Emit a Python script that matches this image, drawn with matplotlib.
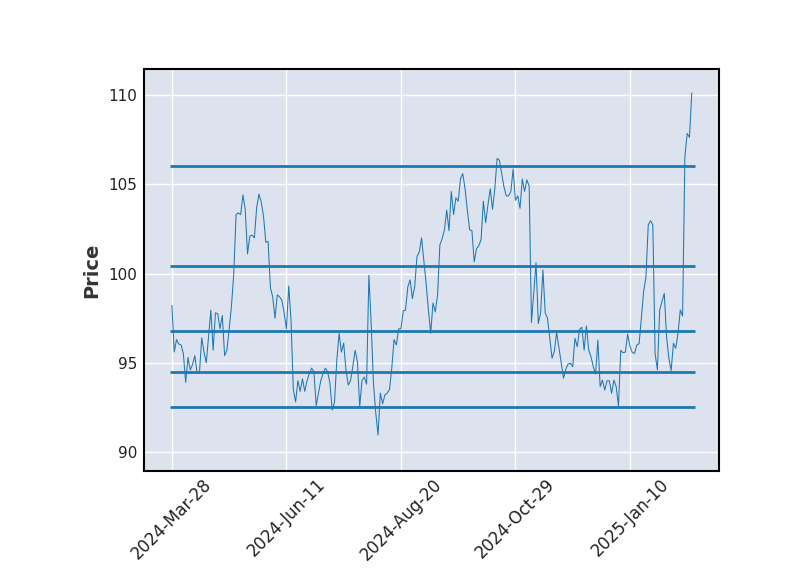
import matplotlib
matplotlib.use("Agg")
import matplotlib.pyplot as plt
import numpy as np

# closing prices, one per trading session
close = [
    98.2, 95.6, 96.3, 96.05, 96.0, 95.5, 93.9, 95.3, 94.6, 94.9,
    95.4, 94.4, 94.4, 96.4, 95.6, 95.0, 96.5, 97.95, 95.7, 97.8,
    97.75, 96.9, 97.65, 95.4, 95.7, 96.9, 98.2, 100.0, 103.3, 103.4,
    103.3, 104.4, 103.6, 101.1, 102.1, 102.15, 102.0, 103.7, 104.45, 104.0,
    103.2, 101.75, 101.8, 99.2, 98.7, 97.5, 98.8, 98.7, 98.5, 97.8,
    96.9, 99.3, 97.4, 93.5, 92.8, 94.0, 93.4, 94.1, 93.4, 94.0,
    94.4, 94.7, 94.5, 92.6, 93.3, 94.0, 94.4, 94.7, 94.5, 93.85,
    92.35, 92.8, 95.15, 96.65, 95.6, 96.1, 94.6, 93.75, 94.0, 94.8,
    95.7, 95.05, 92.55, 94.0, 94.2, 93.8, 99.9, 97.2, 93.85, 92.2,
    90.95, 93.3, 92.7, 93.2, 93.3, 93.5, 94.7, 96.3, 96.0, 96.9,
    96.9, 97.9, 97.95, 99.25, 99.65, 98.6, 99.25, 100.95, 101.2, 102.0,
    100.75, 99.45, 97.95, 96.65, 98.35, 97.85, 98.8, 101.6, 101.95, 102.45,
    103.55, 102.4, 104.6, 103.3, 104.25, 104.05, 105.3, 105.6, 104.75, 103.55,
    102.45, 102.4, 100.65, 101.4, 101.55, 101.9, 104.05, 102.85, 103.85, 104.75,
    103.6, 104.75, 106.45, 106.35, 105.6, 104.85, 104.35, 104.35, 104.6, 105.85,
    104.1, 104.35, 103.65, 105.3, 104.6, 105.25, 104.9, 97.25, 98.9, 100.6,
    97.2, 97.8, 100.2, 97.8, 97.5, 96.4, 95.25, 95.65, 96.7, 95.85,
    95.0, 94.13, 94.63, 94.93, 94.97, 94.78, 96.37, 95.9, 96.87, 96.99,
    95.71, 97.06, 95.71, 95.34, 94.78, 94.37, 96.27, 93.66, 94.03, 93.47,
    93.99, 93.99, 93.29, 94.03, 93.66, 92.58, 95.7, 95.56, 95.6, 96.6,
    95.95, 95.58, 95.53, 95.99, 96.07, 97.5, 99.0, 99.8, 102.72, 102.96,
    102.72, 95.5, 94.6, 97.96, 98.42, 98.89, 96.46, 95.25, 94.56, 96.09,
    95.81, 96.65, 97.96, 97.62, 106.54, 107.85, 107.63, 110.1,
]

# horizontal levels drawn across the chart
levels = [106.02, 100.42, 96.78, 94.48, 92.52]

# date labels at every 50th session
tick_labels = ["2024-Mar-28", "2024-Jun-11", "2024-Aug-20", "2024-Oct-29", "2025-Jan-10"]

BG = "#DCE3EF"
LINE = "#1f77b4"
TEXT = "#222222"

fig = plt.figure(figsize=(8.0, 5.75), dpi=100)
ax = fig.add_axes([0.18, 0.181, 0.71875, 0.699])
ax.set_facecolor(BG)

x = np.arange(len(close))
ax.plot(x, close, color=LINE, linewidth=0.75, zorder=3)
ax.hlines(levels, -1.0, len(close) + 0.5, colors=LINE, linewidth=2.0, zorder=4)

ax.set_xlim(-12.2, 238.9)
ax.set_ylim(88.94, 111.46)

tick_pos = np.arange(len(tick_labels)) * 50
ax.set_xticks(tick_pos)
ax.set_xticklabels(tick_labels, rotation=45, ha="center", fontsize=12)
ax.set_yticks([90, 95, 100, 105, 110])
ax.tick_params(axis="y", labelsize=11, length=0, pad=5, labelcolor=TEXT)
ax.tick_params(axis="x", length=0, pad=3, labelcolor=TEXT)

ax.grid(True, color="white", linewidth=1.0, zorder=0)
ax.set_axisbelow(True)
for spine in ax.spines.values():
    spine.set_color("black")
    spine.set_linewidth(1.5)

ax.set_ylabel("Price", fontsize=14, fontweight="bold", labelpad=5, color="#333333")

fig.savefig("out.png", dpi=100)
